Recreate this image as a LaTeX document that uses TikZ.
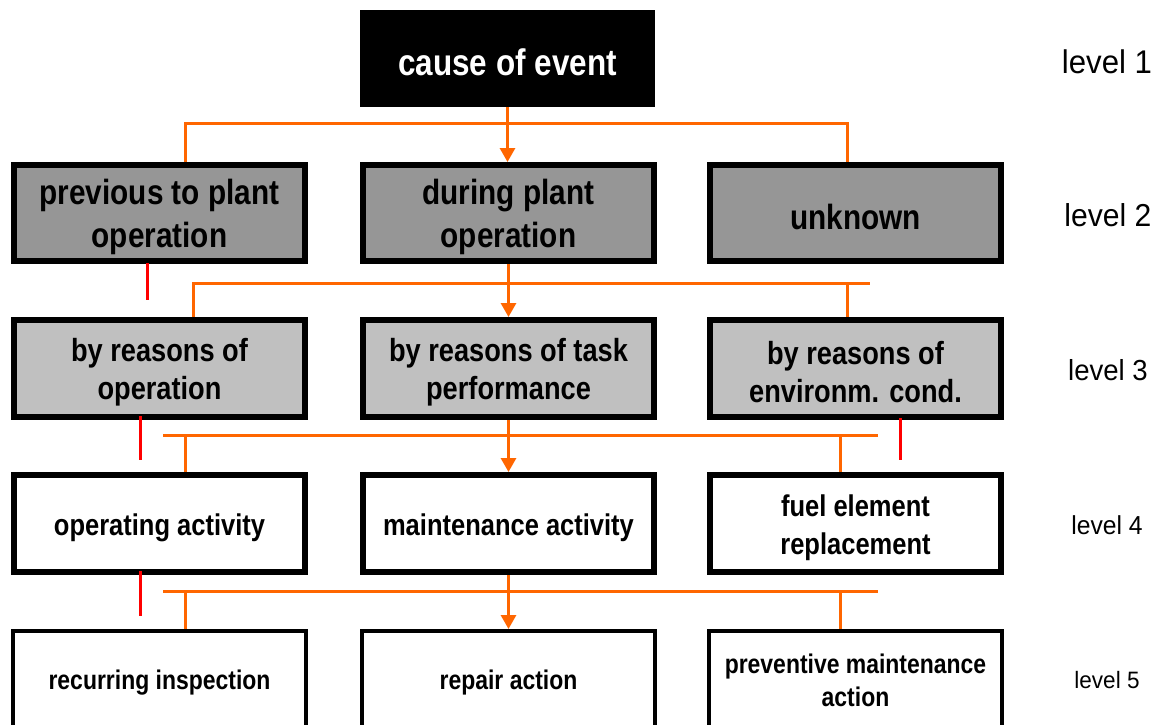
\documentclass[tikz,border=0pt]{standalone}
\usepackage{fontspec}
\setmainfont{Liberation Sans}[FakeStretch=0.85]
\newfontfamily\lblfont{Liberation Sans}[FakeStretch=0.95]
\usetikzlibrary{arrows.meta,calc}
\definecolor{orng}{HTML}{FF6600}
\definecolor{gdark}{HTML}{969696}
\definecolor{glight}{HTML}{C0C0C0}
\definecolor{rd}{HTML}{FF0000}
\begin{document}
\begin{tikzpicture}[x=1pt,y=-1pt,
  boxbase/.style={draw=black, line width=6pt, inner sep=0pt, minimum width=291pt, minimum height=97pt},
  topbox/.style={fill=black, inner sep=0pt, minimum width=295pt, minimum height=97pt},
  lvtwo/.style={boxbase, fill=gdark, minimum height=96pt},
  lvthree/.style={boxbase, fill=glight},
  lvfour/.style={boxbase, fill=white},
  lvfive/.style={boxbase, fill=white, line width=4pt, minimum width=293pt, minimum height=98pt},
  txt/.style={inner sep=0pt, align=center, yshift=-4pt},
  tone/.style={txt, text=white, font=\fontsize{37}{40}\selectfont\bfseries},
  ttwo/.style={txt, font=\fontsize{35}{43}\selectfont\bfseries},
  tthree/.style={txt, font=\fontsize{32}{38}\selectfont\bfseries},
  tfour/.style={txt, font=\fontsize{30}{38}\selectfont\bfseries},
  tfive/.style={txt, yshift=1pt, font=\fontsize{27}{33}\selectfont\bfseries},
  lbl/.style={inner sep=0pt, anchor=center},
  oline/.style={draw=orng, line width=3pt, line join=miter},
  oarrow/.style={draw=orng, line width=3pt, -{Triangle[width=15pt,length=14pt]}},
  rline/.style={draw=rd, line width=3pt}
]
\useasboundingbox (0,0) rectangle (1161,724);

% level 1
\node[topbox] (c) at (507.5,58.5) {};
\node[tone] (ct) at (c.center) {cause of event};
% level 2
\node[lvtwo] (p2a) at (159.5,213) {};
\node[lvtwo] (p2b) at (508.5,213) {};
\node[lvtwo] (p2c) at (855.5,213) {};
\node[ttwo] (p2at) at (p2a.center) {previous to plant\\operation};
\node[ttwo] (p2bt) at (p2b.center) {during plant\\operation};
\node[ttwo] (p2ct) at (p2c.center) {unknown};
% level 3
\node[lvthree] (p3a) at (159.5,368.5) {};
\node[lvthree] (p3b) at (508.5,368.5) {};
\node[lvthree] (p3c) at (855.5,368.5) {};
\node[tthree] (p3at) at (p3a.center) {by reasons of\\operation};
\node[tthree] (p3bt) at (p3b.center) {by reasons of task\\performance};
\node[tthree] (p3ct) at (p3c.center) {by reasons of\\environm. cond.};
% level 4
\node[lvfour] (p4a) at (159.5,523.5) {};
\node[lvfour] (p4b) at (508.5,523.5) {};
\node[lvfour] (p4c) at (855.5,523.5) {};
\node[tfour] (p4at) at (p4a.center) {operating activity};
\node[tfour] (p4bt) at (p4b.center) {maintenance activity};
\node[tfour] (p4ct) at (p4c.center) {fuel element\\replacement};
% level 5
\node[lvfive] (p5a) at (159.5,680) {};
\node[lvfive] (p5b) at (508.5,680) {};
\node[lvfive] (p5c) at (855.5,680) {};
\node[tfive] (p5at) at (p5a.center) {recurring inspection};
\node[tfive] (p5bt) at (p5b.center) {repair action};
\node[tfive, yshift=3pt] (p5ct) at (p5c.center) {preventive maintenance\\action};

% level labels
\node[lbl, font=\lblfont\fontsize{32.8}{36}\selectfont] (l1) at (1107,62) {level 1};
\node[lbl, font=\lblfont\fontsize{31.7}{36}\selectfont] (l2) at (1108,215) {level 2};
\node[lbl, font=\lblfont\fontsize{29}{34}\selectfont] (l3) at (1108,370) {level 3};
\node[lbl, font=\lblfont\fontsize{26}{30}\selectfont] (l4) at (1107,525) {level 4};
\node[lbl, font=\lblfont\fontsize{23.7}{28}\selectfont] (l5) at (1107,680) {level 5};

% level 1 -> 2
\coordinate (b1l) at (185,123);
\coordinate (b1r) at (847,123);
\draw[oline] (b1l |- p2a.north) -- (b1l) -- (b1r) -- (b1r |- p2c.north);
\draw[oarrow] (c.south) -- (c.south |- p2b.north);

% level 2 -> 3
\coordinate (b2l) at (193,283);
\coordinate (b2r) at (870,283);
\coordinate (b2j) at (847,283);
\draw[oline] (b2l |- p3a.north) -- (b2l) -- (b2r);
\draw[oline] (b2j) -- (b2j |- p3c.north);
\draw[oarrow] (p2b.south) -- (p2b.south |- p3b.north);
\draw[rline] ($(p2a.south)+(-12.5,-1)$) -- ++(0,37);

% level 3 -> 4
\coordinate (b3l) at (163,435);
\coordinate (b3r) at (878,435);
\coordinate (b3a) at (185,435);
\coordinate (b3c) at (840,435);
\draw[oline] (b3l) -- (b3r);
\draw[oline] (b3a) -- (b3a |- p4a.north);
\draw[oline] (b3c) -- (b3c |- p4c.north);
\draw[oarrow] (p3b.south) -- (p3b.south |- p4b.north);
\draw[rline] ($(p3a.south)+(-19.5,-4)$) -- ++(0,44);
\draw[rline] ($(p3c.south)+(44.5,-2)$) -- ++(0,42);

% level 4 -> 5
\coordinate (b4l) at (163,591);
\coordinate (b4r) at (878,591);
\coordinate (b4a) at (185,591);
\coordinate (b4c) at (840,591);
\draw[oline] (b4l) -- (b4r);
\draw[oline] (b4a) -- (b4a |- p5a.north);
\draw[oline] (b4c) -- (b4c |- p5c.north);
\draw[oarrow] (p4b.south) -- (p4b.south |- p5b.north);
\draw[rline] ($(p4a.south)+(-19.5,-4)$) -- ++(0,45);
\end{tikzpicture}
\end{document}
